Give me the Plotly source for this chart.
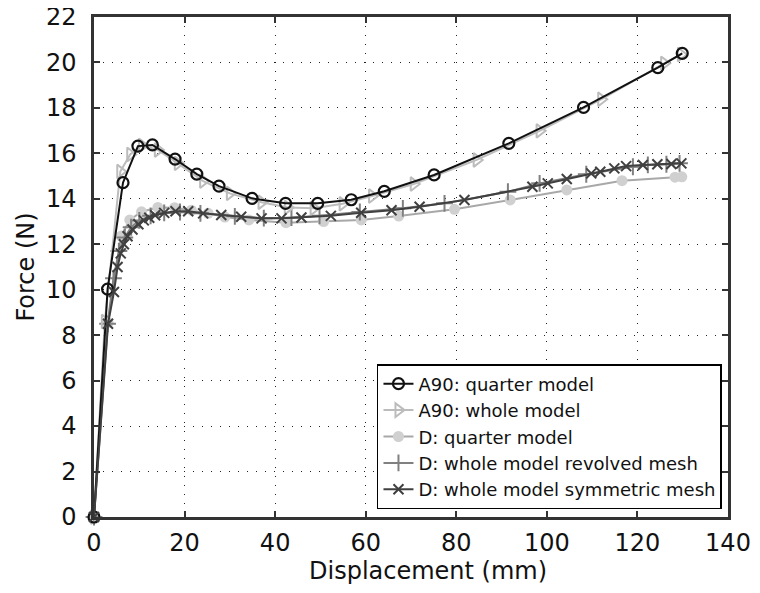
import plotly.graph_objects as go

# A90: quarter model
a90q_x = [0, 3.0, 6.4, 9.7, 12.9, 17.9, 22.7, 27.6, 34.9, 42.3, 49.4, 56.8, 64.1, 75.1, 91.6, 108.1, 124.5, 129.9]
a90q_y = [0, 10.03, 14.71, 16.32, 16.37, 15.75, 15.09, 14.56, 14.02, 13.80, 13.80, 13.96, 14.33, 15.05, 16.44, 18.02, 19.77, 20.40]

# A90: whole model
a90w_x = [0, 2.4, 5.8, 8.0, 10.6, 14.1, 18.5, 24.1, 30.0, 37.0, 42.8, 48.5, 54.9, 61.4, 70.6, 84.5, 98.4, 112.0, 125.9, 129.6]
a90w_y = [0, 8.6, 15.2, 15.95, 16.35, 16.15, 15.56, 14.78, 14.24, 13.85, 13.62, 13.58, 13.78, 14.12, 14.65, 15.71, 16.99, 18.38, 19.96, 20.35]

# D: quarter model
dq_x = [0, 3.1, 6.0, 7.9, 10.5, 14.1, 17.8, 21.5, 25.2, 28.9, 34.2, 42.4, 50.7, 59.0, 67.3, 79.6, 91.9, 104.4, 116.6, 128.3, 129.8]
dq_y = [0, 8.55, 12.36, 13.07, 13.43, 13.62, 13.61, 13.50, 13.36, 13.20, 13.07, 12.95, 13.00, 13.07, 13.24, 13.54, 13.95, 14.39, 14.80, 14.95, 14.97]

# D: whole model revolved mesh
dr_x = [0, 3.0, 4.3, 5.5, 6.8, 8.2, 10.0, 12.5, 15.5, 19.0, 23.5, 31.1, 37.5, 43.6, 49.8, 58.7, 68.2, 77.4, 91.4, 98.4, 108.7, 119.0, 122.3, 126.4, 129.3]
dr_y = [0, 8.5, 10.5, 11.7, 12.3, 12.75, 13.05, 13.25, 13.38, 13.42, 13.36, 13.23, 13.15, 13.17, 13.25, 13.42, 13.58, 13.80, 14.31, 14.68, 15.08, 15.41, 15.49, 15.52, 15.56]

# D: whole model symmetric mesh
ds_x = [0, 3.1, 4.4, 5.2, 5.9, 6.6, 7.4, 8.5, 9.8, 11.0, 12.2, 13.5, 15.5, 18.0, 20.8, 24.1, 28.1, 32.5, 37.0, 41.4, 45.8, 52.3, 59.0, 65.7, 71.9, 81.8, 96.8, 100.2, 104.4, 109.8, 111.8, 114.9, 117.5, 121.2, 124.4, 127.5, 129.7]
ds_y = [0, 8.5, 9.9, 11.0, 11.6, 12.0, 12.35, 12.65, 12.88, 13.05, 13.17, 13.28, 13.38, 13.45, 13.45, 13.36, 13.29, 13.21, 13.14, 13.14, 13.18, 13.25, 13.39, 13.50, 13.65, 13.95, 14.53, 14.68, 14.87, 15.12, 15.19, 15.34, 15.44, 15.49, 15.52, 15.53, 15.56]

x_ticks = [0, 20, 40, 60, 80, 100, 120, 140]
y_ticks = [0, 2, 4, 6, 8, 10, 12, 14, 16, 18, 20, 22]

FONT = "DejaVu Sans"

fig = go.Figure()

fig.add_trace(go.Scatter(
    x=dq_x, y=dq_y, mode="lines+markers", name="D: quarter model", legendrank=3,
    line=dict(color="#a8a8a8", width=2),
    marker=dict(symbol="circle", size=11, color="#d0d0d0", line=dict(width=0)),
    cliponaxis=False))
fig.add_trace(go.Scatter(
    x=dr_x, y=dr_y, mode="lines+markers", name="D: whole model revolved mesh", legendrank=4,
    line=dict(color="#808080", width=2),
    marker=dict(symbol="cross-thin", size=12, line=dict(color="#808080", width=2)),
    cliponaxis=False))
fig.add_trace(go.Scatter(
    x=a90w_x, y=a90w_y, mode="lines+markers", name="A90: whole model", legendrank=2,
    line=dict(color="#bcbcbc", width=2),
    marker=dict(symbol="triangle-right-open", size=12, line=dict(color="#bcbcbc", width=2)),
    cliponaxis=False))
fig.add_trace(go.Scatter(
    x=a90q_x, y=a90q_y, mode="lines+markers", name="A90: quarter model", legendrank=1,
    line=dict(color="#111111", width=2),
    marker=dict(symbol="circle-open", size=11, line=dict(color="#111111", width=2.2)),
    cliponaxis=False))
fig.add_trace(go.Scatter(
    x=ds_x, y=ds_y, mode="lines+markers", name="D: whole model symmetric mesh", legendrank=5,
    line=dict(color="#404040", width=2),
    marker=dict(symbol="x-thin", size=10, line=dict(color="#404040", width=2)),
    cliponaxis=False))

axis_common = dict(
    showline=True, linecolor="#333333", linewidth=2.5, mirror="ticks",
    ticks="inside", ticklen=6, tickwidth=1.5, tickcolor="#333333",
    showgrid=True, gridcolor="#222222", gridwidth=1.3, griddash="1.3px,7.7px",
    zeroline=False, automargin=False, ticklabeloverflow="allow",
    tickfont=dict(family=FONT, size=24, color="#111111"),
)

fig.update_xaxes(range=[0, 140], tickvals=x_ticks, ticktext=[str(v) for v in x_ticks],
                 ticklabelstandoff=2,
                 **axis_common)
fig.update_yaxes(range=[0, 22], tickvals=y_ticks, ticktext=[str(v) for v in y_ticks],
                 ticklabelstandoff=10,
                 title=dict(text="Force (N)", font=dict(family=FONT, size=24, color="#111111"), standoff=5),
                 **axis_common)

fig.add_annotation(text="Displacement (mm)", xref="paper", yref="paper",
                   x=0.527, y=-0.108, xanchor="center", yanchor="middle", showarrow=False,
                   font=dict(family=FONT, size=24, color="#111111"))

fig.update_layout(
    width=760, height=593,
    margin=dict(l=86, r=40, t=9, b=84),
    paper_bgcolor="white", plot_bgcolor="white",
    font=dict(family=FONT, color="#111111"),
    showlegend=True,
    legend=dict(x=0.9905, y=0.016, xanchor="right", yanchor="bottom",
                bgcolor="white", bordercolor="#000000", borderwidth=1.5,
                font=dict(family=FONT, size=18, color="#111111"),
                tracegroupgap=0, itemwidth=30, traceorder="normal"),
)

fig.write_html("out.html")
